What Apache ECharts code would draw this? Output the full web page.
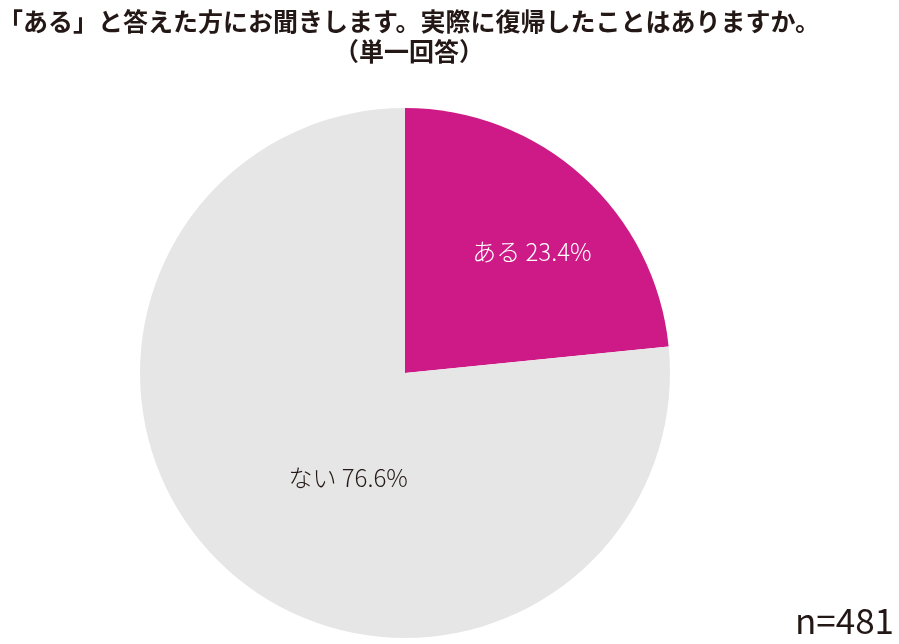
<!DOCTYPE html>
<html><head><meta charset="utf-8">
<script src="https://cdn.jsdelivr.net/npm/echarts@6/dist/echarts.min.js"></script>
<style>html,body{margin:0;padding:0;background:#fff}#c{width:899px;height:644px}</style>
</head><body><div id="c"></div>
<script>
const titleLines = ['「ある」と答えた方にお聞きします。実際に復帰したことはありますか。', '（単一回答）'];
const categories = ['ある', 'ない'];
const values = [23.4, 76.6];
const colors = ['#CD1A87', '#E6E6E6'];
const labelColors = ['#FFFFFF', '#231815'];
const labelOffsets = [[36, -21], [34, 4]];
const sampleNote = 'n=481';

const chart = echarts.init(document.getElementById('c'));
chart.setOption({
  animation: false,
  title: {
    text: titleLines.join('\n'),
    left: 404, top: 1, textAlign: 'center',
    textStyle: {fontFamily: 'Noto Sans CJK JP', fontWeight: 'bold', fontSize: 25, color: '#231815', lineHeight: 30}
  },
  graphic: [{
    type: 'text', right: 5, bottom: 6,
    style: {text: sampleNote, fontFamily: 'Noto Sans CJK JP', fontSize: 35, fill: '#231815'}
  }],
  series: [{
    type: 'pie',
    center: [405, 373], radius: 265,
    startAngle: 90, clockwise: true,
    label: {show: true, position: 'inside', fontFamily: 'Noto Sans CJK JP', fontSize: 24, fontWeight: 300,
      formatter: p => p.name + ' ' + p.value.toFixed(1) + '%'},
    labelLine: {show: false},
    itemStyle: {borderWidth: 0},
    emphasis: {disabled: true},
    data: categories.map((c, i) => ({
      name: c, value: values[i],
      itemStyle: {color: colors[i]},
      label: {color: labelColors[i], offset: labelOffsets[i]}
    }))
  }]
});
</script></body></html>
